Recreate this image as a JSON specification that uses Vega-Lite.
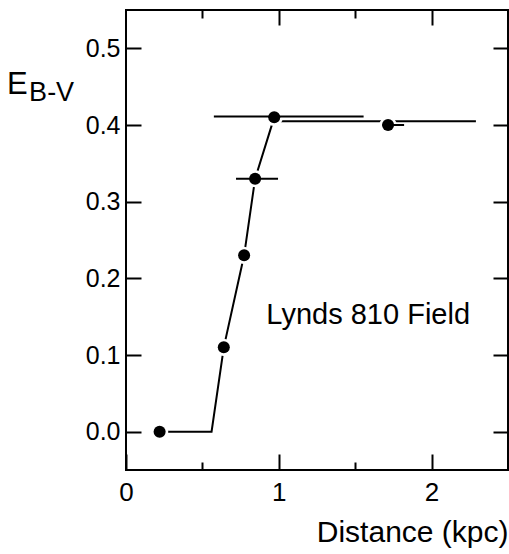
{
  "$schema": "https://vega.github.io/schema/vega-lite/v6.json",
  "width": 382,
  "height": 460,
  "autosize": "none",
  "padding": {"left": 126, "top": 10, "right": 1, "bottom": 84},
  "background": "white",
  "config": {
    "view": {"stroke": "black", "strokeWidth": 2},
    "font": "Liberation Sans",
    "axis": {"domain": false, "grid": false, "tickColor": "black", "tickWidth": 2, "labelColor": "black", "titleColor": "black", "labelFont": "Liberation Sans", "titleFont": "Liberation Sans"}
  },
  "datasets": {
    "pts": [
      {"d": 0.22, "e": 0.0},
      {"d": 0.64, "e": 0.11},
      {"d": 0.773, "e": 0.23},
      {"d": 0.845, "e": 0.33},
      {"d": 0.97, "e": 0.41},
      {"d": 1.715, "e": 0.40}
    ],
    "bars": [
      {"e": 0.33, "lo": 0.72, "hi": 0.995},
      {"e": 0.411, "lo": 0.575, "hi": 1.555},
      {"e": 0.40, "lo": 1.68, "hi": 1.82}
    ],
    "model": [
      {"i": 1, "d": 0.22, "e": 0.0},
      {"i": 2, "d": 0.56, "e": 0.0},
      {"i": 3, "d": 0.64, "e": 0.11},
      {"i": 4, "d": 0.773, "e": 0.23},
      {"i": 5, "d": 0.845, "e": 0.33},
      {"i": 6, "d": 0.97, "e": 0.41},
      {"i": 7, "d": 1.0, "e": 0.405},
      {"i": 8, "d": 2.29, "e": 0.405}
    ],
    "notes": [
      {"t": "E", "d": -0.778, "e": 0.440, "s": "big"},
      {"t": "B-V", "d": -0.634, "e": 0.431, "s": "small"}
    ]
  },
  "layer": [
    {
      "layer": [
        {
          "data": {"name": "model"},
          "mark": {"type": "line", "color": "black", "strokeWidth": 2},
          "encoding": {
            "x": {"field": "d", "type": "quantitative", "scale": {"domain": [0, 2.5], "nice": false, "zero": false},
              "axis": {"orient": "bottom", "values": [0, 0.5, 1, 1.5, 2], "labelExpr": "datum.value % 1 === 0 ? format(datum.value, 'd') : ''",
                "tickSize": {"condition": {"test": "datum.value % 1 === 0", "value": -16}, "value": -8},
                "labelFontSize": 26, "labelPadding": 25, "labelFlush": false,
                "title": "Distance (kpc)", "titleFontSize": 30, "titleFontWeight": "normal", "titleAnchor": "end", "titlePadding": 12}},
            "y": {"field": "e", "type": "quantitative", "scale": {"domain": [-0.05, 0.55], "nice": false, "zero": false},
              "axis": {"orient": "left", "values": [0, 0.1, 0.2, 0.3, 0.4, 0.5], "format": ".1f", "tickSize": -15,
                "labelFontSize": 25, "labelPadding": 21, "title": null}},
            "order": {"field": "i", "type": "quantitative"}
          }
        },
        {
          "data": {"name": "pts"},
          "mark": {"type": "circle", "color": "white", "opacity": 1, "size": 300},
          "encoding": {
            "x": {"field": "d", "type": "quantitative"},
            "y": {"field": "e", "type": "quantitative"}
          }
        },
        {
          "data": {"name": "pts"},
          "mark": {"type": "circle", "color": "black", "opacity": 1, "size": 145},
          "encoding": {
            "x": {"field": "d", "type": "quantitative"},
            "y": {"field": "e", "type": "quantitative"}
          }
        },
        {
          "data": {"name": "bars"},
          "mark": {"type": "rule", "color": "black", "strokeWidth": 2},
          "encoding": {
            "x": {"field": "lo", "type": "quantitative"},
            "x2": {"field": "hi"},
            "y": {"field": "e", "type": "quantitative"}
          }
        },
        {
          "data": {"values": [{"t": "Lynds 810 Field", "d": 1.585, "e": 0.141}]},
          "mark": {"type": "text", "fontSize": 29, "align": "center", "baseline": "alphabetic", "color": "black"},
          "encoding": {
            "x": {"field": "d", "type": "quantitative"},
            "y": {"field": "e", "type": "quantitative"},
            "text": {"field": "t"}
          }
        },
        {
          "data": {"name": "notes"},
          "mark": {"type": "text", "align": "left", "baseline": "alphabetic", "color": "black", "clip": false},
          "encoding": {
            "x": {"field": "d", "type": "quantitative"},
            "y": {"field": "e", "type": "quantitative"},
            "text": {"field": "t"},
            "size": {"field": "s", "type": "nominal", "scale": {"domain": ["big", "small"], "range": [31, 27]}, "legend": null}
          }
        }
      ]
    },
    {
      "data": {"name": "pts"},
      "mark": {"type": "point", "opacity": 0},
      "encoding": {
        "x": {"field": "d", "type": "quantitative", "scale": {"domain": [0, 2.5], "nice": false, "zero": false},
          "axis": {"orient": "top", "values": [0.5, 1, 1.5, 2], "labels": false, "title": null,
            "tickSize": {"condition": {"test": "datum.value % 1 === 0", "value": -15}, "value": -8}}},
        "y": {"field": "e", "type": "quantitative", "scale": {"domain": [-0.05, 0.55], "nice": false, "zero": false},
          "axis": {"orient": "right", "values": [0, 0.1, 0.2, 0.3, 0.4, 0.5], "labels": false, "title": null, "tickSize": -15}}
      }
    }
  ],
  "resolve": {"axis": {"x": "independent", "y": "independent"}}
}
